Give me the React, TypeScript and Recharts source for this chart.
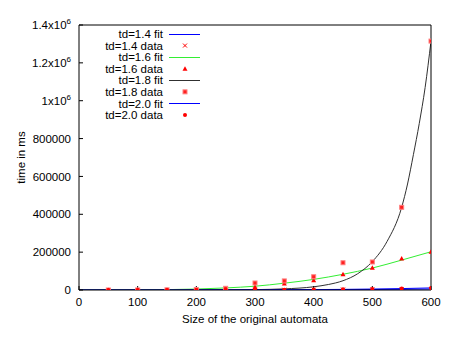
import { ComposedChart, Line, Scatter, XAxis, YAxis } from "recharts";

// sizes of the original automata where runs were measured
const sizes = [50, 100, 150, 200, 250, 300, 350, 400, 450, 500, 550, 600];

// measured times (ms)
const td14Data = [100, 150, 250, 400, 600, 900, 1300, 1800, 2300, 3000, 3800, 4800];
const td16Data = [200, 500, 1200, 3500, 8000, 17000, 35000, 51000, 83000, 118000, 167000, 202000];
const td18Data = [100, 300, 800, 2500, 9000, 37000, 48000, 70000, 144000, 148000, 437000, 1315000];
const td20Data = [100, 200, 350, 500, 800, 1200, 1800, 2500, 3500, 5000, 7500, 11000];

// fitted curves
const fitX = [0, 50, 100, 150, 200, 250, 300, 350, 400, 450, 500, 550, 600];
const td14Fit = [0, 20, 50, 100, 200, 350, 500, 750, 1100, 1700, 2500, 3500, 5000];
const td16Fit = [0, 100, 500, 2000, 5000, 11000, 20000, 36000, 56000, 83000, 116000, 158000, 202000];
const td20Fit = [0, 30, 80, 150, 300, 500, 800, 1400, 2200, 3300, 5000, 7500, 11000];

const fit18X = [0, 100, 200, 250, 300, 350, 400, 425, 450, 475, 500, 525, 550, 560, 570, 580, 590, 600];
const td18Fit = [0, 20, 200, 700, 2000, 6000, 17000, 29000, 49000, 86000, 150000, 256000, 437000, 560000, 715000, 880000, 1070000, 1315000];

const xTicks = [0, 100, 200, 300, 400, 500, 600];
const yTicks = [0, 200000, 400000, 600000, 800000, 1000000, 1200000, 1400000];

const legendLabels = [
  "td=1.4 fit",
  "td=1.4 data",
  "td=1.6 fit",
  "td=1.6 data",
  "td=1.8 fit",
  "td=1.8 data",
  "td=2.0 fit",
  "td=2.0 data",
];

const BLUE = "#0000ff";
const GREEN = "#33ee33";
const GREY = "#303030";
const RED = "#ff0000";
const FONT = '"Liberation Sans", Arial, sans-serif';

const pts = (xs: number[], ys: number[]) => xs.map((x, i) => ({ x, y: ys[i] }));

const Marker = ({ kind, cx, cy }: { kind: string; cx: number; cy: number }) => {
  if (cx == null || cy == null) return null;
  if (kind === "cross")
    return (
      <g stroke={RED} strokeWidth={1}>
        <line x1={cx - 2} y1={cy - 2} x2={cx + 2} y2={cy + 2} />
        <line x1={cx - 2} y1={cy + 2} x2={cx + 2} y2={cy - 2} />
      </g>
    );
  if (kind === "tri")
    return (
      <polygon
        points={`${cx},${cy - 2.5} ${cx - 2.5},${cy + 2} ${cx + 2.5},${cy + 2}`}
        fill={RED}
      />
    );
  if (kind === "square")
    return (
      <rect x={cx - 2} y={cy - 2} width={4} height={4} fill="#ff2020" stroke="#ff8080" strokeWidth={1} />
    );
  return <circle cx={cx} cy={cy} r={2} fill={RED} />;
};

const YTick = ({ x, y, payload }: any) => {
  const v = payload.value as number;
  return (
    <text x={x} y={y} dy="0.355em" textAnchor="end" fill="#000" fontSize={11.5} fontFamily={FONT}>
      {v >= 1000000 ? (
        <>
          {`${v / 1000000}x10`}
          <tspan dy={-5} fontSize={8}>6</tspan>
        </>
      ) : (
        String(v)
      )}
    </text>
  );
};

const Empty = () => <g />;

const legendKinds = ["line", "cross", "line", "tri", "line", "square", "line", "circle"];
const legendColors = [BLUE, RED, GREEN, RED, GREY, RED, BLUE, RED];

function KeyBox() {
  return (
    <svg
      width={125}
      height={100}
      style={{ position: "absolute", left: 90, top: 26, pointerEvents: "none" }}
    >
      {legendLabels.map((label, i) => {
        const cy = 8 + i * 11.57;
        return (
          <g key={label}>
            <text x={73} y={cy} dy="0.355em" textAnchor="end" fontSize={11.5} fontFamily={FONT} fill="#000">
              {label}
            </text>
            {legendKinds[i] === "line" ? (
              <line x1={79} x2={110} y1={Math.round(cy) + 0.5} y2={Math.round(cy) + 0.5} stroke={legendColors[i]} strokeWidth={1} />
            ) : (
              <Marker kind={legendKinds[i]} cx={95} cy={cy} />
            )}
          </g>
        );
      })}
    </svg>
  );
}

export default function App() {
  return (
    <div
      style={{
        position: "absolute",
        left: 0,
        top: 0,
        width: 451,
        height: 339,
        background: "#fff",
        fontFamily: FONT,
      }}
    >
      <ComposedChart width={451} height={339} margin={{ top: 0, right: 0, bottom: 0, left: 0 }}>
        <XAxis
          xAxisId="b"
          type="number"
          dataKey="x"
          domain={[0, 600]}
          ticks={xTicks}
          interval={0}
          height={49}
          tickSize={-4}
          tickMargin={12}
          stroke="#000"
          tick={{ fill: "#000", fontSize: 11.5, fontFamily: FONT }}
          allowDataOverflow
          label={{
            value: "Size of the original automata",
            position: "insideBottom",
            offset: 16,
            fill: "#000",
            fontSize: 11.5,
            fontFamily: FONT,
          }}
        />
        <XAxis
          xAxisId="t"
          orientation="top"
          type="number"
          dataKey="x"
          domain={[0, 600]}
          ticks={xTicks}
          interval={0}
          height={25}
          tickSize={-4}
          stroke="#000"
          tick={Empty}
        />
        <YAxis
          yAxisId="l"
          type="number"
          domain={[0, 1400000]}
          ticks={yTicks}
          interval={0}
          width={79}
          tickSize={-4}
          tickMargin={12}
          stroke="#000"
          tick={YTick}
          allowDataOverflow
          label={{
            value: "time in ms",
            angle: -90,
            position: "center",
            dx: -19,
            fill: "#000",
            fontSize: 11.5,
            fontFamily: FONT,
          }}
        />
        <YAxis
          yAxisId="r"
          orientation="right"
          type="number"
          domain={[0, 1400000]}
          ticks={yTicks}
          interval={0}
          width={20}
          tickSize={-4}
          stroke="#000"
          tick={Empty}
        />

        <Line xAxisId="b" yAxisId="l" data={pts(fitX, td14Fit)} dataKey="y" type="monotone" stroke={BLUE} strokeWidth={1} dot={false} isAnimationActive={false} />
        <Scatter xAxisId="b" yAxisId="l" data={pts(sizes, td14Data)} dataKey="y" shape={(p: any) => <Marker kind="cross" cx={p.cx} cy={p.cy} />} isAnimationActive={false} />

        <Line xAxisId="b" yAxisId="l" data={pts(fitX, td16Fit)} dataKey="y" type="monotone" stroke={GREEN} strokeWidth={1} dot={false} isAnimationActive={false} />
        <Scatter xAxisId="b" yAxisId="l" data={pts(sizes, td16Data)} dataKey="y" shape={(p: any) => <Marker kind="tri" cx={p.cx} cy={p.cy} />} isAnimationActive={false} />

        <Line xAxisId="b" yAxisId="l" data={pts(fit18X, td18Fit)} dataKey="y" type="monotone" stroke={GREY} strokeWidth={1} dot={false} isAnimationActive={false} />
        <Scatter xAxisId="b" yAxisId="l" data={pts(sizes, td18Data)} dataKey="y" shape={(p: any) => <Marker kind="square" cx={p.cx} cy={p.cy} />} isAnimationActive={false} />

        <Line xAxisId="b" yAxisId="l" data={pts(fitX, td20Fit)} dataKey="y" type="monotone" stroke={BLUE} strokeWidth={1} dot={false} isAnimationActive={false} />
        <Scatter xAxisId="b" yAxisId="l" data={pts(sizes, td20Data)} dataKey="y" shape={(p: any) => <Marker kind="circle" cx={p.cx} cy={p.cy} />} isAnimationActive={false} />
      </ComposedChart>
      <KeyBox />
    </div>
  );
}
